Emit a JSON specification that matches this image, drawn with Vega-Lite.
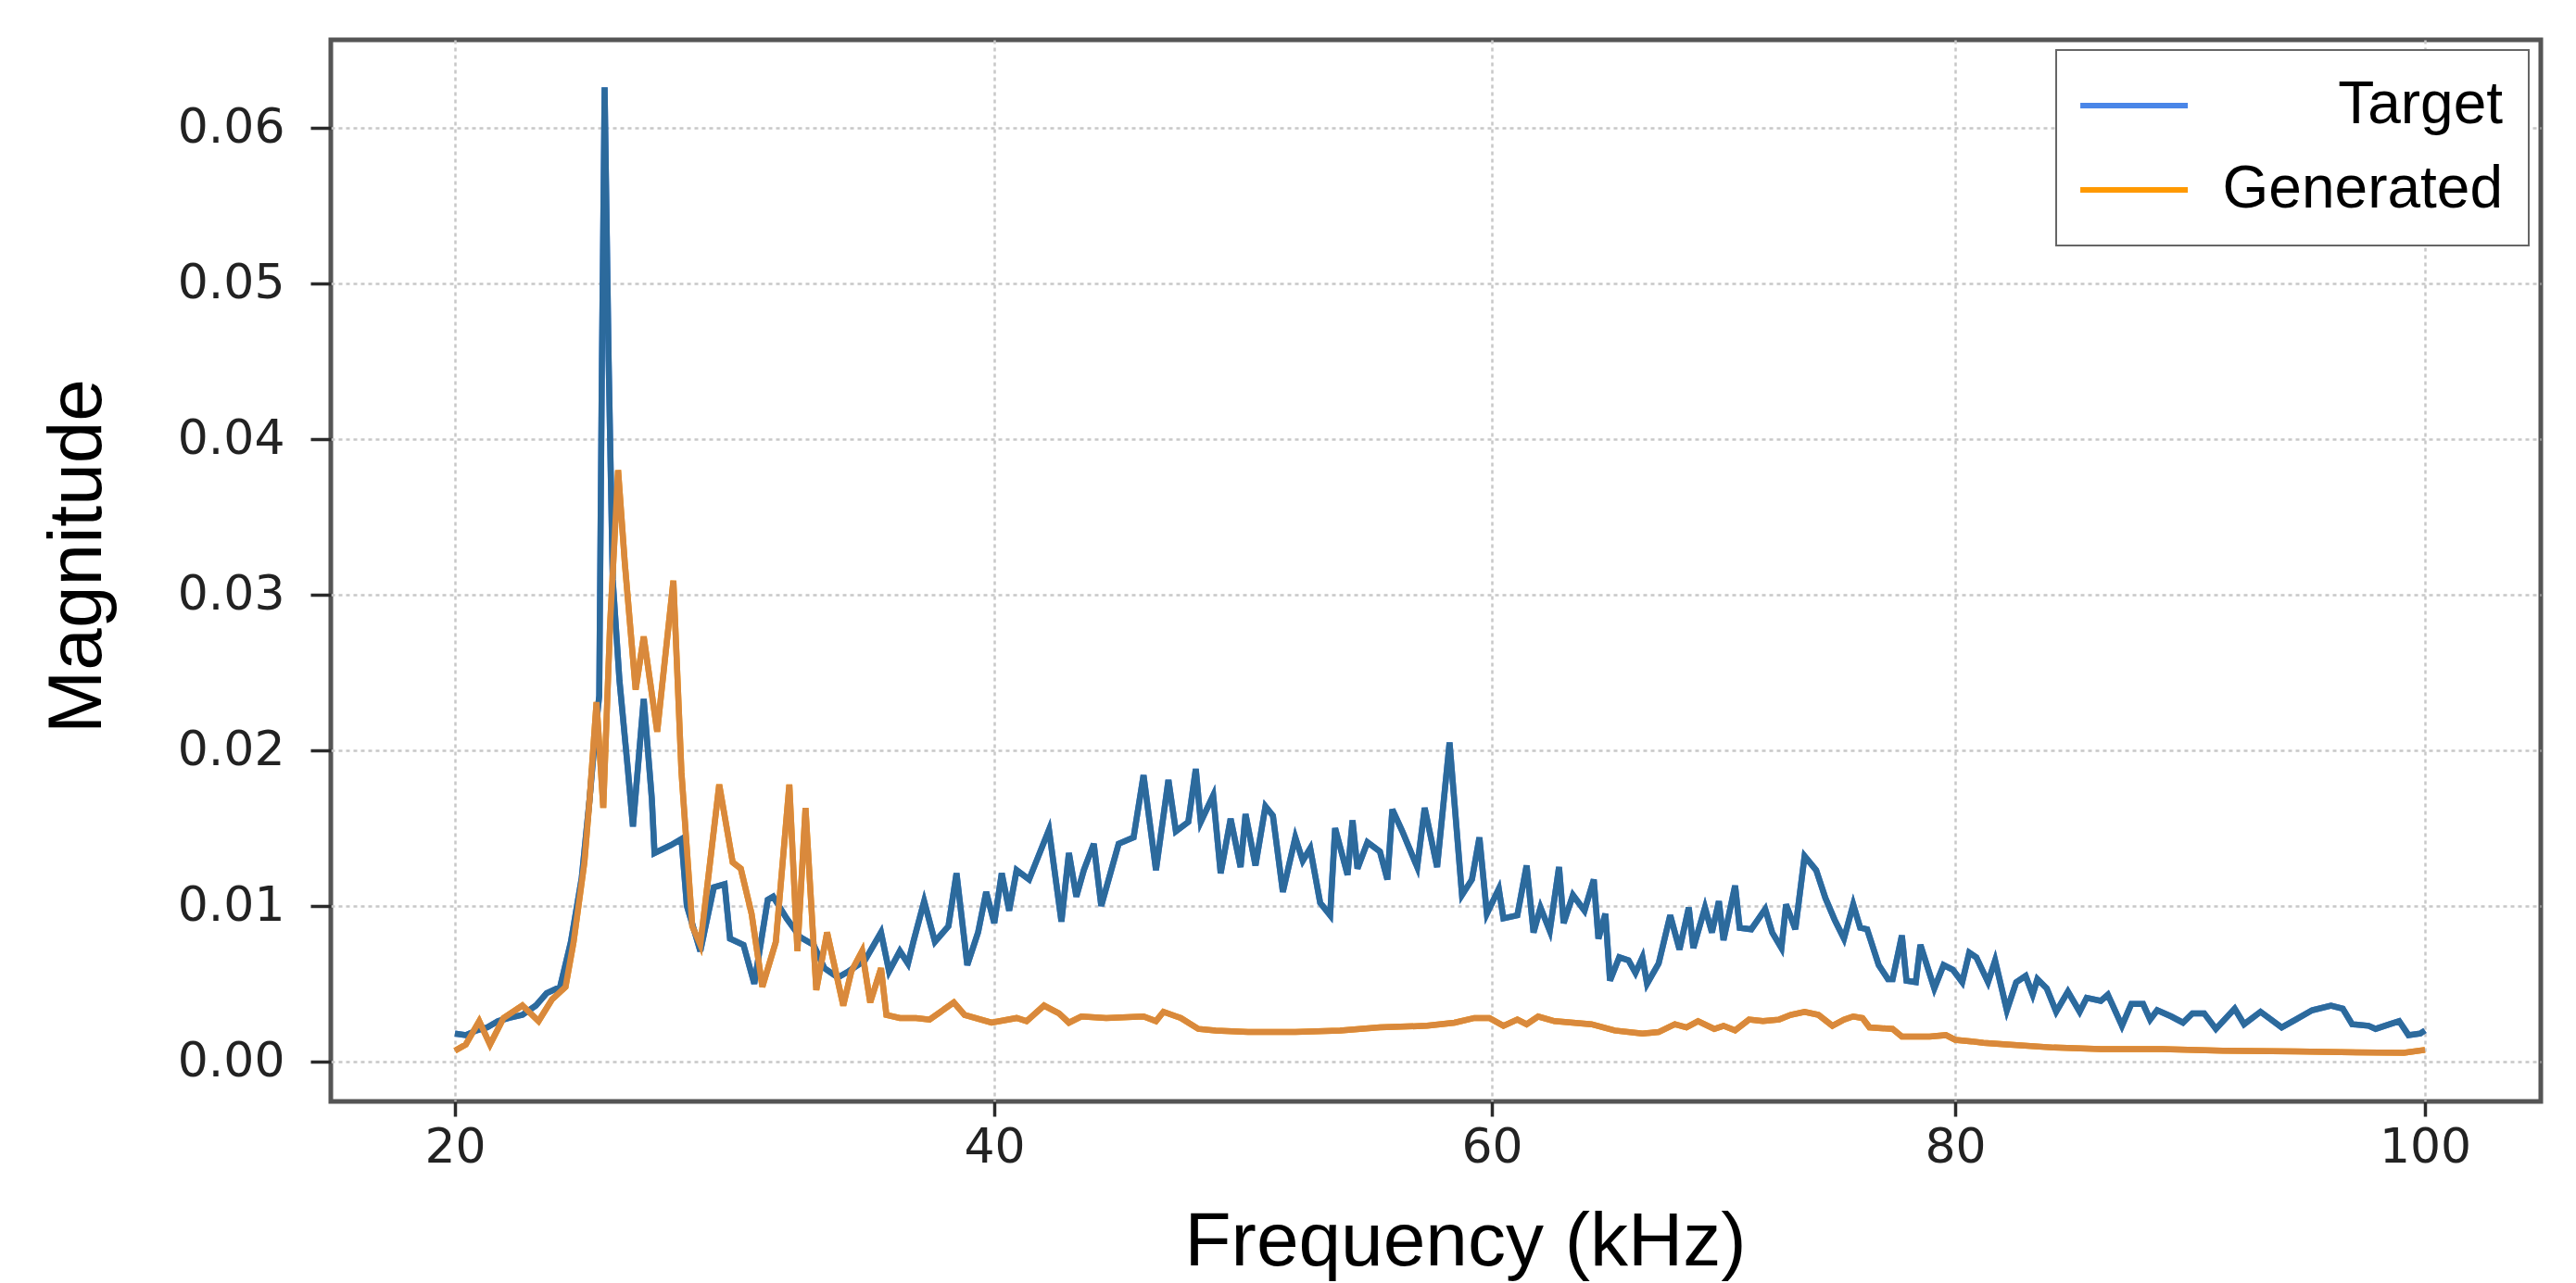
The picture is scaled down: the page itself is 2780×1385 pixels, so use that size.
{
  "$schema": "https://vega.github.io/schema/vega-lite/v6.json",
  "width": 2385,
  "height": 1146,
  "autosize": "none",
  "padding": {"left": 357, "top": 43, "right": 38, "bottom": 196},
  "background": "white",
  "config": {
    "view": {"stroke": "#555555", "strokeWidth": 5},
    "axis": {
      "domain": false,
      "grid": true,
      "gridColor": "#c8c8c8",
      "gridWidth": 2.5,
      "gridDash": [4, 4],
      "tickColor": "#2a2a2a",
      "tickWidth": 3.5,
      "labelFont": "DejaVu Sans",
      "labelFontSize": 52,
      "labelColor": "#222222",
      "titleFont": "Liberation Sans",
      "titleFontSize": 82,
      "titleFontWeight": "normal",
      "titleColor": "#000000"
    },
    "legend": {"strokeWidth": 2}
  },
  "datasets": {
    "spectra": [
      {"f": 20.0, "m": 0.0018, "s": "Target"},
      {"f": 20.4, "m": 0.0017, "s": "Target"},
      {"f": 20.8, "m": 0.0020, "s": "Target"},
      {"f": 21.2, "m": 0.0022, "s": "Target"},
      {"f": 21.6, "m": 0.0026, "s": "Target"},
      {"f": 22.0, "m": 0.0028, "s": "Target"},
      {"f": 22.5, "m": 0.0030, "s": "Target"},
      {"f": 23.0, "m": 0.0036, "s": "Target"},
      {"f": 23.4, "m": 0.0044, "s": "Target"},
      {"f": 23.9, "m": 0.0048, "s": "Target"},
      {"f": 24.3, "m": 0.0077, "s": "Target"},
      {"f": 24.7, "m": 0.0118, "s": "Target"},
      {"f": 25.0, "m": 0.0170, "s": "Target"},
      {"f": 25.2, "m": 0.0210, "s": "Target"},
      {"f": 25.35, "m": 0.0235, "s": "Target"},
      {"f": 25.45, "m": 0.0450, "s": "Target"},
      {"f": 25.55, "m": 0.0626, "s": "Target"},
      {"f": 25.7, "m": 0.0450, "s": "Target"},
      {"f": 25.85, "m": 0.0310, "s": "Target"},
      {"f": 26.1, "m": 0.0245, "s": "Target"},
      {"f": 26.4, "m": 0.0190, "s": "Target"},
      {"f": 26.6, "m": 0.0151, "s": "Target"},
      {"f": 27.0, "m": 0.0233, "s": "Target"},
      {"f": 27.3, "m": 0.0169, "s": "Target"},
      {"f": 27.4, "m": 0.0134, "s": "Target"},
      {"f": 28.0, "m": 0.0139, "s": "Target"},
      {"f": 28.4, "m": 0.0143, "s": "Target"},
      {"f": 28.6, "m": 0.0100, "s": "Target"},
      {"f": 29.1, "m": 0.0071, "s": "Target"},
      {"f": 29.6, "m": 0.0112, "s": "Target"},
      {"f": 30.0, "m": 0.0114, "s": "Target"},
      {"f": 30.2, "m": 0.0079, "s": "Target"},
      {"f": 30.7, "m": 0.0075, "s": "Target"},
      {"f": 31.1, "m": 0.0050, "s": "Target"},
      {"f": 31.6, "m": 0.0104, "s": "Target"},
      {"f": 31.8, "m": 0.0106, "s": "Target"},
      {"f": 32.3, "m": 0.0092, "s": "Target"},
      {"f": 32.8, "m": 0.0080, "s": "Target"},
      {"f": 33.3, "m": 0.0075, "s": "Target"},
      {"f": 33.7, "m": 0.0060, "s": "Target"},
      {"f": 34.2, "m": 0.0054, "s": "Target"},
      {"f": 34.6, "m": 0.0058, "s": "Target"},
      {"f": 35.2, "m": 0.0065, "s": "Target"},
      {"f": 35.8, "m": 0.0083, "s": "Target"},
      {"f": 36.1, "m": 0.0058, "s": "Target"},
      {"f": 36.5, "m": 0.0071, "s": "Target"},
      {"f": 36.8, "m": 0.0063, "s": "Target"},
      {"f": 37.0, "m": 0.0077, "s": "Target"},
      {"f": 37.4, "m": 0.0103, "s": "Target"},
      {"f": 37.8, "m": 0.0077, "s": "Target"},
      {"f": 38.3, "m": 0.0087, "s": "Target"},
      {"f": 38.6, "m": 0.0121, "s": "Target"},
      {"f": 39.0, "m": 0.0062, "s": "Target"},
      {"f": 39.4, "m": 0.0083, "s": "Target"},
      {"f": 39.7, "m": 0.0109, "s": "Target"},
      {"f": 40.0, "m": 0.0089, "s": "Target"},
      {"f": 40.3, "m": 0.0121, "s": "Target"},
      {"f": 40.6, "m": 0.0097, "s": "Target"},
      {"f": 40.9, "m": 0.0123, "s": "Target"},
      {"f": 41.4, "m": 0.0117, "s": "Target"},
      {"f": 42.2, "m": 0.0149, "s": "Target"},
      {"f": 42.7, "m": 0.0090, "s": "Target"},
      {"f": 43.0, "m": 0.0134, "s": "Target"},
      {"f": 43.3, "m": 0.0106, "s": "Target"},
      {"f": 43.6, "m": 0.0123, "s": "Target"},
      {"f": 44.0, "m": 0.0140, "s": "Target"},
      {"f": 44.3, "m": 0.0100, "s": "Target"},
      {"f": 45.0, "m": 0.0140, "s": "Target"},
      {"f": 45.6, "m": 0.0144, "s": "Target"},
      {"f": 46.0, "m": 0.0184, "s": "Target"},
      {"f": 46.5, "m": 0.0123, "s": "Target"},
      {"f": 47.0, "m": 0.0181, "s": "Target"},
      {"f": 47.3, "m": 0.0148, "s": "Target"},
      {"f": 47.8, "m": 0.0154, "s": "Target"},
      {"f": 48.1, "m": 0.0188, "s": "Target"},
      {"f": 48.3, "m": 0.0154, "s": "Target"},
      {"f": 48.8, "m": 0.0171, "s": "Target"},
      {"f": 49.1, "m": 0.0121, "s": "Target"},
      {"f": 49.5, "m": 0.0156, "s": "Target"},
      {"f": 49.9, "m": 0.0125, "s": "Target"},
      {"f": 50.1, "m": 0.0159, "s": "Target"},
      {"f": 50.5, "m": 0.0126, "s": "Target"},
      {"f": 50.9, "m": 0.0164, "s": "Target"},
      {"f": 51.2, "m": 0.0158, "s": "Target"},
      {"f": 51.6, "m": 0.0109, "s": "Target"},
      {"f": 52.1, "m": 0.0144, "s": "Target"},
      {"f": 52.4, "m": 0.0129, "s": "Target"},
      {"f": 52.7, "m": 0.0137, "s": "Target"},
      {"f": 53.1, "m": 0.0102, "s": "Target"},
      {"f": 53.5, "m": 0.0094, "s": "Target"},
      {"f": 53.7, "m": 0.0150, "s": "Target"},
      {"f": 54.2, "m": 0.0120, "s": "Target"},
      {"f": 54.4, "m": 0.0155, "s": "Target"},
      {"f": 54.6, "m": 0.0124, "s": "Target"},
      {"f": 55.0, "m": 0.0141, "s": "Target"},
      {"f": 55.5, "m": 0.0135, "s": "Target"},
      {"f": 55.8, "m": 0.0117, "s": "Target"},
      {"f": 56.0, "m": 0.0162, "s": "Target"},
      {"f": 56.4, "m": 0.0148, "s": "Target"},
      {"f": 57.0, "m": 0.0125, "s": "Target"},
      {"f": 57.3, "m": 0.0163, "s": "Target"},
      {"f": 57.8, "m": 0.0125, "s": "Target"},
      {"f": 58.3, "m": 0.0205, "s": "Target"},
      {"f": 58.8, "m": 0.0107, "s": "Target"},
      {"f": 59.2, "m": 0.0117, "s": "Target"},
      {"f": 59.5, "m": 0.0144, "s": "Target"},
      {"f": 59.8, "m": 0.0095, "s": "Target"},
      {"f": 60.3, "m": 0.0111, "s": "Target"},
      {"f": 60.5, "m": 0.0092, "s": "Target"},
      {"f": 61.1, "m": 0.0094, "s": "Target"},
      {"f": 61.5, "m": 0.0126, "s": "Target"},
      {"f": 61.8, "m": 0.0083, "s": "Target"},
      {"f": 62.1, "m": 0.0099, "s": "Target"},
      {"f": 62.5, "m": 0.0084, "s": "Target"},
      {"f": 62.9, "m": 0.0125, "s": "Target"},
      {"f": 63.1, "m": 0.0089, "s": "Target"},
      {"f": 63.5, "m": 0.0107, "s": "Target"},
      {"f": 64.0, "m": 0.0097, "s": "Target"},
      {"f": 64.4, "m": 0.0117, "s": "Target"},
      {"f": 64.6, "m": 0.0079, "s": "Target"},
      {"f": 64.9, "m": 0.0095, "s": "Target"},
      {"f": 65.1, "m": 0.0052, "s": "Target"},
      {"f": 65.5, "m": 0.0067, "s": "Target"},
      {"f": 65.9, "m": 0.0065, "s": "Target"},
      {"f": 66.2, "m": 0.0057, "s": "Target"},
      {"f": 66.5, "m": 0.0067, "s": "Target"},
      {"f": 66.7, "m": 0.0050, "s": "Target"},
      {"f": 67.2, "m": 0.0063, "s": "Target"},
      {"f": 67.7, "m": 0.0094, "s": "Target"},
      {"f": 68.1, "m": 0.0072, "s": "Target"},
      {"f": 68.5, "m": 0.0099, "s": "Target"},
      {"f": 68.7, "m": 0.0073, "s": "Target"},
      {"f": 69.2, "m": 0.0099, "s": "Target"},
      {"f": 69.5, "m": 0.0083, "s": "Target"},
      {"f": 69.8, "m": 0.0103, "s": "Target"},
      {"f": 70.0, "m": 0.0078, "s": "Target"},
      {"f": 70.5, "m": 0.0113, "s": "Target"},
      {"f": 70.7, "m": 0.0086, "s": "Target"},
      {"f": 71.2, "m": 0.0085, "s": "Target"},
      {"f": 71.8, "m": 0.0098, "s": "Target"},
      {"f": 72.1, "m": 0.0083, "s": "Target"},
      {"f": 72.5, "m": 0.0073, "s": "Target"},
      {"f": 72.7, "m": 0.0101, "s": "Target"},
      {"f": 73.1, "m": 0.0085, "s": "Target"},
      {"f": 73.5, "m": 0.0132, "s": "Target"},
      {"f": 74.0, "m": 0.0123, "s": "Target"},
      {"f": 74.4, "m": 0.0105, "s": "Target"},
      {"f": 74.8, "m": 0.0091, "s": "Target"},
      {"f": 75.2, "m": 0.0079, "s": "Target"},
      {"f": 75.6, "m": 0.0101, "s": "Target"},
      {"f": 75.9, "m": 0.0086, "s": "Target"},
      {"f": 76.2, "m": 0.0085, "s": "Target"},
      {"f": 76.7, "m": 0.0062, "s": "Target"},
      {"f": 77.1, "m": 0.0053, "s": "Target"},
      {"f": 77.3, "m": 0.0053, "s": "Target"},
      {"f": 77.7, "m": 0.0081, "s": "Target"},
      {"f": 77.9, "m": 0.0052, "s": "Target"},
      {"f": 78.3, "m": 0.0051, "s": "Target"},
      {"f": 78.5, "m": 0.0075, "s": "Target"},
      {"f": 79.1, "m": 0.0047, "s": "Target"},
      {"f": 79.5, "m": 0.0062, "s": "Target"},
      {"f": 79.9, "m": 0.0059, "s": "Target"},
      {"f": 80.3, "m": 0.0051, "s": "Target"},
      {"f": 80.6, "m": 0.0070, "s": "Target"},
      {"f": 80.9, "m": 0.0067, "s": "Target"},
      {"f": 81.4, "m": 0.0051, "s": "Target"},
      {"f": 81.7, "m": 0.0065, "s": "Target"},
      {"f": 82.2, "m": 0.0033, "s": "Target"},
      {"f": 82.6, "m": 0.0051, "s": "Target"},
      {"f": 83.0, "m": 0.0055, "s": "Target"},
      {"f": 83.3, "m": 0.0043, "s": "Target"},
      {"f": 83.5, "m": 0.0053, "s": "Target"},
      {"f": 83.9, "m": 0.0047, "s": "Target"},
      {"f": 84.3, "m": 0.0032, "s": "Target"},
      {"f": 84.8, "m": 0.0045, "s": "Target"},
      {"f": 85.3, "m": 0.0032, "s": "Target"},
      {"f": 85.6, "m": 0.0041, "s": "Target"},
      {"f": 86.2, "m": 0.0039, "s": "Target"},
      {"f": 86.5, "m": 0.0043, "s": "Target"},
      {"f": 87.1, "m": 0.0023, "s": "Target"},
      {"f": 87.5, "m": 0.0037, "s": "Target"},
      {"f": 88.0, "m": 0.0037, "s": "Target"},
      {"f": 88.3, "m": 0.0027, "s": "Target"},
      {"f": 88.6, "m": 0.0033, "s": "Target"},
      {"f": 89.2, "m": 0.0029, "s": "Target"},
      {"f": 89.7, "m": 0.0025, "s": "Target"},
      {"f": 90.1, "m": 0.0031, "s": "Target"},
      {"f": 90.6, "m": 0.0031, "s": "Target"},
      {"f": 91.1, "m": 0.0021, "s": "Target"},
      {"f": 91.9, "m": 0.0034, "s": "Target"},
      {"f": 92.3, "m": 0.0024, "s": "Target"},
      {"f": 93.0, "m": 0.0032, "s": "Target"},
      {"f": 93.9, "m": 0.0022, "s": "Target"},
      {"f": 94.5, "m": 0.0027, "s": "Target"},
      {"f": 95.2, "m": 0.0033, "s": "Target"},
      {"f": 96.0, "m": 0.0036, "s": "Target"},
      {"f": 96.5, "m": 0.0034, "s": "Target"},
      {"f": 96.9, "m": 0.0024, "s": "Target"},
      {"f": 97.6, "m": 0.0023, "s": "Target"},
      {"f": 97.9, "m": 0.0021, "s": "Target"},
      {"f": 98.5, "m": 0.0024, "s": "Target"},
      {"f": 98.9, "m": 0.0026, "s": "Target"},
      {"f": 99.3, "m": 0.0017, "s": "Target"},
      {"f": 99.8, "m": 0.0018, "s": "Target"},
      {"f": 100.0, "m": 0.0020, "s": "Target"},
      {"f": 20.0, "m": 0.0007, "s": "Generated"},
      {"f": 20.4, "m": 0.0011, "s": "Generated"},
      {"f": 20.9, "m": 0.0026, "s": "Generated"},
      {"f": 21.3, "m": 0.0011, "s": "Generated"},
      {"f": 21.8, "m": 0.0028, "s": "Generated"},
      {"f": 22.5, "m": 0.0036, "s": "Generated"},
      {"f": 23.1, "m": 0.0026, "s": "Generated"},
      {"f": 23.6, "m": 0.0040, "s": "Generated"},
      {"f": 24.1, "m": 0.0048, "s": "Generated"},
      {"f": 24.4, "m": 0.0077, "s": "Generated"},
      {"f": 24.8, "m": 0.0128, "s": "Generated"},
      {"f": 25.0, "m": 0.0170, "s": "Generated"},
      {"f": 25.25, "m": 0.0231, "s": "Generated"},
      {"f": 25.5, "m": 0.0163, "s": "Generated"},
      {"f": 25.75, "m": 0.0280, "s": "Generated"},
      {"f": 26.05, "m": 0.0380, "s": "Generated"},
      {"f": 26.3, "m": 0.0320, "s": "Generated"},
      {"f": 26.7, "m": 0.0239, "s": "Generated"},
      {"f": 27.0, "m": 0.0273, "s": "Generated"},
      {"f": 27.5, "m": 0.0212, "s": "Generated"},
      {"f": 28.1, "m": 0.0309, "s": "Generated"},
      {"f": 28.4, "m": 0.0186, "s": "Generated"},
      {"f": 28.8, "m": 0.0087, "s": "Generated"},
      {"f": 29.1, "m": 0.0075, "s": "Generated"},
      {"f": 29.8, "m": 0.0178, "s": "Generated"},
      {"f": 30.3, "m": 0.0128, "s": "Generated"},
      {"f": 30.6, "m": 0.0124, "s": "Generated"},
      {"f": 31.0, "m": 0.0095, "s": "Generated"},
      {"f": 31.4, "m": 0.0048, "s": "Generated"},
      {"f": 31.9, "m": 0.0077, "s": "Generated"},
      {"f": 32.4, "m": 0.0178, "s": "Generated"},
      {"f": 32.7, "m": 0.0071, "s": "Generated"},
      {"f": 33.0, "m": 0.0163, "s": "Generated"},
      {"f": 33.4, "m": 0.0046, "s": "Generated"},
      {"f": 33.8, "m": 0.0083, "s": "Generated"},
      {"f": 34.4, "m": 0.0036, "s": "Generated"},
      {"f": 34.7, "m": 0.0058, "s": "Generated"},
      {"f": 35.1, "m": 0.0071, "s": "Generated"},
      {"f": 35.4, "m": 0.0038, "s": "Generated"},
      {"f": 35.8, "m": 0.0060, "s": "Generated"},
      {"f": 36.0, "m": 0.0030, "s": "Generated"},
      {"f": 36.5, "m": 0.0028, "s": "Generated"},
      {"f": 37.1, "m": 0.0028, "s": "Generated"},
      {"f": 37.6, "m": 0.0027, "s": "Generated"},
      {"f": 38.5, "m": 0.0038, "s": "Generated"},
      {"f": 38.9, "m": 0.0030, "s": "Generated"},
      {"f": 39.9, "m": 0.0025, "s": "Generated"},
      {"f": 40.9, "m": 0.0028, "s": "Generated"},
      {"f": 41.3, "m": 0.0026, "s": "Generated"},
      {"f": 42.0, "m": 0.0036, "s": "Generated"},
      {"f": 42.6, "m": 0.0031, "s": "Generated"},
      {"f": 43.0, "m": 0.0025, "s": "Generated"},
      {"f": 43.5, "m": 0.0029, "s": "Generated"},
      {"f": 44.5, "m": 0.0028, "s": "Generated"},
      {"f": 46.0, "m": 0.0029, "s": "Generated"},
      {"f": 46.5, "m": 0.0026, "s": "Generated"},
      {"f": 46.8, "m": 0.0032, "s": "Generated"},
      {"f": 47.5, "m": 0.0028, "s": "Generated"},
      {"f": 48.2, "m": 0.0021, "s": "Generated"},
      {"f": 48.9, "m": 0.0020, "s": "Generated"},
      {"f": 50.2, "m": 0.0019, "s": "Generated"},
      {"f": 52.1, "m": 0.0019, "s": "Generated"},
      {"f": 53.9, "m": 0.0020, "s": "Generated"},
      {"f": 55.5, "m": 0.0022, "s": "Generated"},
      {"f": 57.4, "m": 0.0023, "s": "Generated"},
      {"f": 58.5, "m": 0.0025, "s": "Generated"},
      {"f": 59.3, "m": 0.0028, "s": "Generated"},
      {"f": 59.9, "m": 0.0028, "s": "Generated"},
      {"f": 60.5, "m": 0.0023, "s": "Generated"},
      {"f": 61.1, "m": 0.0027, "s": "Generated"},
      {"f": 61.5, "m": 0.0024, "s": "Generated"},
      {"f": 62.0, "m": 0.0029, "s": "Generated"},
      {"f": 62.7, "m": 0.0026, "s": "Generated"},
      {"f": 64.3, "m": 0.0024, "s": "Generated"},
      {"f": 65.3, "m": 0.0020, "s": "Generated"},
      {"f": 66.5, "m": 0.0018, "s": "Generated"},
      {"f": 67.2, "m": 0.0019, "s": "Generated"},
      {"f": 67.9, "m": 0.0024, "s": "Generated"},
      {"f": 68.4, "m": 0.0022, "s": "Generated"},
      {"f": 68.9, "m": 0.0026, "s": "Generated"},
      {"f": 69.6, "m": 0.0021, "s": "Generated"},
      {"f": 70.0, "m": 0.0023, "s": "Generated"},
      {"f": 70.5, "m": 0.0020, "s": "Generated"},
      {"f": 71.1, "m": 0.0027, "s": "Generated"},
      {"f": 71.7, "m": 0.0026, "s": "Generated"},
      {"f": 72.4, "m": 0.0027, "s": "Generated"},
      {"f": 72.9, "m": 0.0030, "s": "Generated"},
      {"f": 73.5, "m": 0.0032, "s": "Generated"},
      {"f": 74.1, "m": 0.0030, "s": "Generated"},
      {"f": 74.7, "m": 0.0023, "s": "Generated"},
      {"f": 75.2, "m": 0.0027, "s": "Generated"},
      {"f": 75.6, "m": 0.0029, "s": "Generated"},
      {"f": 76.0, "m": 0.0028, "s": "Generated"},
      {"f": 76.3, "m": 0.0022, "s": "Generated"},
      {"f": 77.3, "m": 0.0021, "s": "Generated"},
      {"f": 77.7, "m": 0.0016, "s": "Generated"},
      {"f": 78.9, "m": 0.0016, "s": "Generated"},
      {"f": 79.6, "m": 0.0017, "s": "Generated"},
      {"f": 80.0, "m": 0.0014, "s": "Generated"},
      {"f": 80.7, "m": 0.0013, "s": "Generated"},
      {"f": 81.2, "m": 0.0012, "s": "Generated"},
      {"f": 82.2, "m": 0.0011, "s": "Generated"},
      {"f": 84.2, "m": 0.0009, "s": "Generated"},
      {"f": 86.2, "m": 0.0008, "s": "Generated"},
      {"f": 88.8, "m": 0.0008, "s": "Generated"},
      {"f": 91.4, "m": 0.0007, "s": "Generated"},
      {"f": 94.5, "m": 0.00065, "s": "Generated"},
      {"f": 99.1, "m": 0.00056, "s": "Generated"},
      {"f": 100.0, "m": 0.00075, "s": "Generated"}
    ]
  },
  "data": {"name": "spectra"},
  "encoding": {
    "x": {
      "field": "f",
      "type": "quantitative",
      "scale": {
        "domain": [15.395, 20, 40, 60, 80, 100, 104.91],
        "range": [0, 134, 716, 1253, 1753, 2260, 2385],
        "nice": false,
        "zero": false
      },
      "axis": {
        "values": [20, 40, 60, 80, 100],
        "format": "d",
        "title": "Frequency (kHz)",
        "tickSize": 16,
        "labelPadding": 8,
        "titleX": 1224,
        "titleY": 176,
        "titleAlign": "center",
        "titleBaseline": "alphabetic",
        "titleAngle": 0
      }
    },
    "y": {
      "field": "m",
      "type": "quantitative",
      "scale": {"domain": [-0.00256, 0.06565], "nice": false, "zero": false},
      "axis": {
        "values": [0, 0.01, 0.02, 0.03, 0.04, 0.05, 0.06],
        "format": ".2f",
        "title": "Magnitude",
        "tickSize": 22,
        "labelPadding": 28,
        "titleX": -249,
        "titleY": 557,
        "titleAngle": -90,
        "titleAlign": "center",
        "titleBaseline": "alphabetic"
      }
    }
  },
  "layer": [
    {
      "mark": {"type": "line", "strokeWidth": 6.5, "interpolate": "linear"},
      "encoding": {
        "color": {
          "field": "s",
          "type": "nominal",
          "sort": ["Target", "Generated"],
          "scale": {"domain": ["Target", "Generated"], "range": ["#4a86e8", "#ff9900"]},
          "legend": {
            "title": null,
            "orient": "none",
            "legendX": 1862,
            "legendY": 11,
            "symbolType": "M-1.17,0H2.83",
            "symbolSize": 3364,
            "symbolStrokeWidth": 6,
            "labelFont": "Liberation Sans",
            "labelFontSize": 64,
            "labelColor": "#000000",
            "labelAlign": "right",
            "labelOffset": 390,
            "labelLimit": 800,
            "strokeColor": "#666666",
            "fillColor": "#ffffff",
            "padding": 28,
            "cornerRadius": 0,
            "rowPadding": 27
          }
        }
      }
    },
    {
      "mark": {"type": "line", "strokeWidth": 6.5, "interpolate": "linear"},
      "encoding": {
        "stroke": {
          "field": "s",
          "type": "nominal",
          "sort": ["Target", "Generated"],
          "scale": {"domain": ["Target", "Generated"], "range": ["#2c6a9c", "#d9893c"]},
          "legend": null
        }
      }
    }
  ]
}
